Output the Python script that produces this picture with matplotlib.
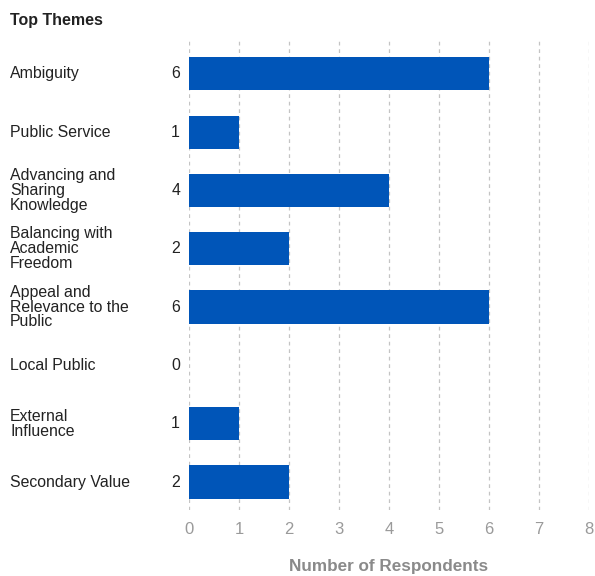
import matplotlib
matplotlib.use("Agg")
import matplotlib.pyplot as plt

categories = ["Ambiguity", "Public Service", "Advancing and\nSharing\nKnowledge",
              "Balancing with\nAcademic\nFreedom", "Appeal and\nRelevance to the\nPublic",
              "Local Public", "External\nInfluence", "Secondary Value"]
values = [6, 1, 4, 2, 6, 0, 1, 2]
xticks = [0, 1, 2, 3, 4, 5, 6, 7, 8]

plt.rcParams['font.family'] = ['Liberation Sans', 'DejaVu Sans']

fig = plt.figure(figsize=(5.95, 5.76), dpi=100)
ax = fig.add_axes([189/595, 1-510/576, 400/595, 470/576])

ypos = list(range(len(categories)))
ax.barh(ypos, values, height=0.57, color="#0055b8", linewidth=0, zorder=3)
ax.set_xlim(0, 8)
ax.set_ylim(7.48, -0.58)
ax.set_xticks(xticks)
ax.set_xticklabels([str(t) for t in xticks])
ax.tick_params(axis='x', length=0, colors="#9a9a9a", labelsize=12, pad=9)
ax.tick_params(axis='y', length=0, left=False, labelleft=False)
ax.grid(axis='x', color="#c4c4c4", linestyle=(0, (3, 3)), linewidth=0.9, zorder=0)
for s in ax.spines.values():
    s.set_visible(False)

for y, cat, v in zip(ypos, categories, values):
    ax.annotate(cat, xy=(10/595, y), xycoords=('figure fraction', 'data'),
                ha='left', va='center', fontsize=11.4, color="#222222", linespacing=0.98)
    ax.annotate(str(v), xy=(180/595, y), xycoords=('figure fraction', 'data'),
                ha='right', va='center', fontsize=11.4, color="#222222")

fig.text(10/595, 1-20/576, "Top Themes", ha='left', va='center', fontsize=11.5,
         fontweight='bold', color="#222222")
fig.text(389/595, 1-566/576, "Number of Respondents", ha='center', va='center',
         fontsize=12.3, fontweight='bold', color="#8a8a8a")

fig.savefig("out.png", dpi=100)
